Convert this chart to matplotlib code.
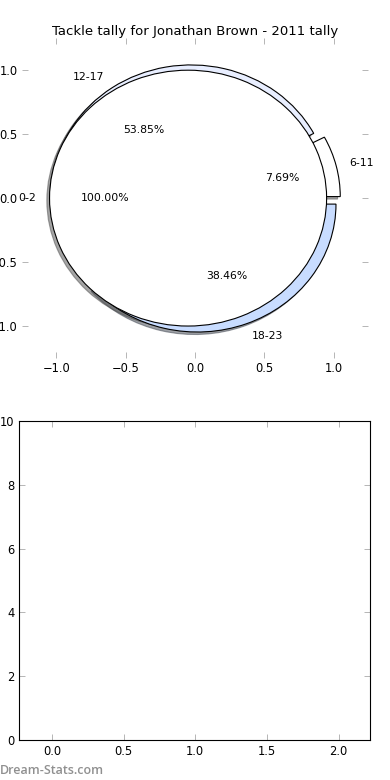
import matplotlib
matplotlib.use("Agg")
import matplotlib.pyplot as plt

plt.rcParams['font.family'] = ['DejaVu Sans']
plt.rcParams['axes.unicode_minus'] = True

title = "Tackle tally for Jonathan Brown - 2011 tally"
inner_labels = ["0-2"]
inner_values = [1]
inner_colors = ["#ffffff"]
outer_labels = ["6-11", "12-17", "18-23"]
outer_values = [1, 7, 5]
outer_colors = ["#ffffff", "#e8eeff", "#c8dcff"]

pie_ticks = [-1.0, -0.5, 0.0, 0.5, 1.0]
bar_xticks = [0.0, 0.5, 1.0, 1.5, 2.0]
bar_yticks = [0, 2, 4, 6, 8, 10]

fig = plt.figure(figsize=(3.9, 7.8), dpi=100)

ax1 = fig.add_axes([0.056, 0.541, 0.888, 0.410])
wp = dict(edgecolor='black', linewidth=0.8)
tp = dict(fontsize=7.8)
sh = dict(ox=-0.014, oy=-0.014)
ax1.pie(outer_values, labels=outer_labels, colors=outer_colors,
        explode=[0.05] * len(outer_values), autopct='%.2f%%',
        shadow=sh, startangle=0, wedgeprops=wp, textprops=tp)
ax1.pie(inner_values, labels=inner_labels, colors=inner_colors,
        explode=[0.05] * len(inner_values), autopct='%.2f%%',
        shadow=sh, startangle=0, wedgeprops=wp, textprops=tp)
ax1.set_aspect('auto')
ax1.set_frame_on(False)
ax1.set_xlim(-1.25, 1.25)
ax1.set_ylim(-1.25, 1.25)
ax1.set_xticks(pie_ticks)
ax1.set_yticks(pie_ticks)
ax1.tick_params(direction='in', length=4, width=0.6, color='#aaaaaa',
                labelsize=8.3, top=True, right=True, pad=3)
ax1.set_title(title, fontsize=9.5, pad=2)

ax2 = fig.add_axes([0.049, 0.0513, 0.900, 0.4087])
ax2.set_xlim(-0.23, 2.22)
ax2.set_ylim(0, 10)
ax2.set_xticks(bar_xticks)
ax2.set_yticks(bar_yticks)
ax2.tick_params(direction='in', length=4, width=0.6, color='#aaaaaa',
                labelsize=8.3, top=True, right=True, pad=3.5)
for s in ax2.spines.values():
    s.set_linewidth(0.8)

fig.text(0.0, 0.008, "Dream-Stats.com", fontsize=9, color='#909090',
         family=['Open Sans', 'DejaVu Sans'], weight='semibold')

fig.savefig("out.png", dpi=100)
